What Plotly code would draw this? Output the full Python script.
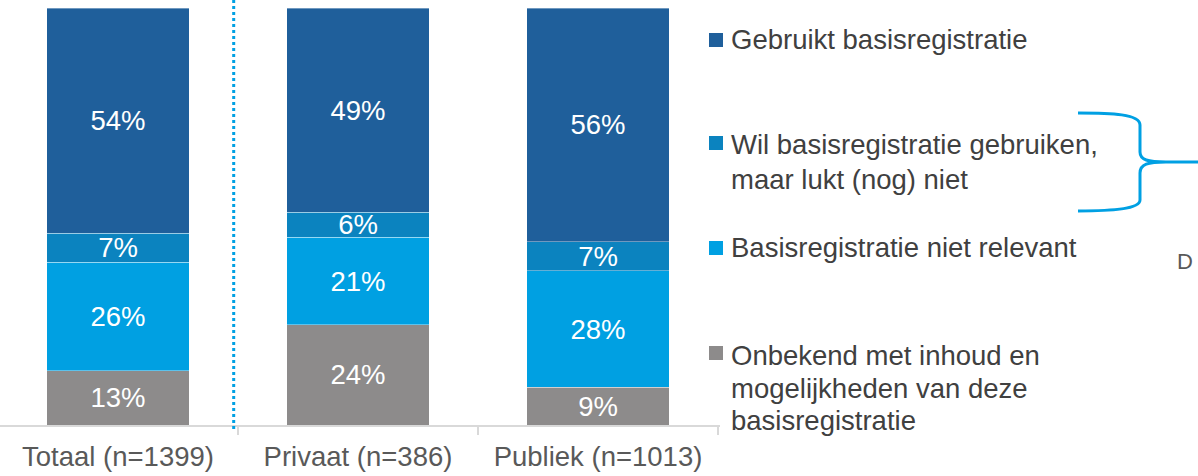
import plotly.graph_objects as go

categories = ["Totaal (n=1399)", "Privaat (n=386)", "Publiek (n=1013)"]
onbekend = [13, 24, 9]
niet_relevant = [26, 21, 28]
wil_gebruiken = [7, 6, 7]
gebruikt = [54, 49, 56]

series_names = [
    "Onbekend met inhoud en mogelijkheden van deze basisregistratie",
    "Basisregistratie niet relevant",
    "Wil basisregistratie gebruiken, maar lukt (nog) niet",
    "Gebruikt basisregistratie",
]
series_values = [onbekend, niet_relevant, wil_gebruiken, gebruikt]
series_colors = ["#8D8B8B", "#00A0E2", "#0B83BF", "#1F5F9B"]

legend_lines = [
    (["Gebruikt basisregistratie"], "#1F5F9B"),
    (["Wil basisregistratie gebruiken,", "maar lukt (nog) niet"], "#0B83BF"),
    (["Basisregistratie niet relevant"], "#00A0E2"),
    (["Onbekend met inhoud en", "mogelijkheden van deze", "basisregistratie"], "#8D8B8B"),
]

W, H = 1198, 476
PL, PR, PT, PB = 0, 720, 8, 425  # plot area pixel bounds
FONT = "Liberation Sans, Arial, sans-serif"
FS = 27.5


def px(x):
    return (x - PL) / (PR - PL)


def py(y):
    return (PB - y) / (PB - PT)


fig = go.Figure()
for name, vals, col in zip(series_names, series_values, series_colors):
    fig.add_trace(go.Bar(
        x=categories, y=vals, name=name,
        marker=dict(color=col, line=dict(color="rgba(255,255,255,0.45)", width=0.8)),
        width=0.592,
        texttemplate="%{y}%", textposition="inside", insidetextanchor="middle",
        textangle=0,
        textfont=dict(color="white", size=FS, family=FONT),
        showlegend=False, hoverinfo="skip",
    ))

shapes = []
annotations = []

# dotted separator
shapes.append(dict(type="line", xref="paper", yref="paper",
                   x0=px(233.7), x1=px(233.7), y0=py(429), y1=py(0),
                   line=dict(color="#00A0E3", width=3, dash="dot")))

# legend (manual)
legend_pos = [
    (40, [40]),
    (143, [145, 179]),
    (248, [247]),
    (353, [355, 388, 420]),
]
for (lines, col), (my, ys) in zip(legend_lines, legend_pos):
    shapes.append(dict(type="rect", xref="paper", yref="paper",
                       x0=px(709), x1=px(723), y0=py(my - 7), y1=py(my + 7),
                       line=dict(width=0), fillcolor=col))
    for t, yy in zip(lines, ys):
        annotations.append(dict(text=t, xref="paper", yref="paper",
                                x=px(729), y=py(yy), xanchor="left", yanchor="middle",
                                showarrow=False,
                                font=dict(size=FS, color="#404040", family=FONT)))

# brace
def P(x, y):
    return f"{px(x):.5f},{py(y):.5f}"

brace = (
    f"M {P(1078,113)} C {P(1112,113)} {P(1140,114)} {P(1140,125)} "
    f"L {P(1140,152)} C {P(1140,160)} {P(1148,162)} {P(1166,162)} L {P(1205,162)} "
    f"M {P(1166,162)} C {P(1148,162)} {P(1140,164)} {P(1140,173)} "
    f"L {P(1140,200)} C {P(1140,209)} {P(1112,211)} {P(1078,211)}"
)
shapes.append(dict(type="path", xref="paper", yref="paper", path=brace,
                   line=dict(color="#00A0E3", width=3)))

annotations.append(dict(text="D", xref="paper", yref="paper",
                        x=px(1194), y=py(261), xanchor="right", yanchor="middle",
                        showarrow=False, borderpad=0,
                        font=dict(size=22, color="#595959", family=FONT)))

fig.update_layout(
    barmode="stack",
    width=W, height=H,
    margin=dict(l=PL, r=W - PR, t=PT, b=H - PB, pad=0),
    paper_bgcolor="white", plot_bgcolor="white",
    uniformtext=dict(minsize=FS, mode="show"),
    shapes=shapes, annotations=annotations,
    xaxis=dict(
        range=[-118 / 240, 3 - 118 / 240],
        showgrid=False, zeroline=False,
        showline=True, linecolor="#D9D9D9", linewidth=2,
        ticks="outside", tickson="boundaries", ticklen=8, tickcolor="#D9D9D9", tickwidth=2,
        tickfont=dict(size=FS, color="#595959", family=FONT),
        ticklabelstandoff=6,
    ),
    yaxis=dict(range=[0, 100], visible=False, showgrid=False, zeroline=False),
    font=dict(family=FONT),
)

fig.write_html(
    "out.html",
    config={"displayModeBar": False, "staticPlot": True},
    post_script="document.body.style.margin='0';document.body.style.padding='0';"
                "document.body.style.overflow='hidden';",
)
